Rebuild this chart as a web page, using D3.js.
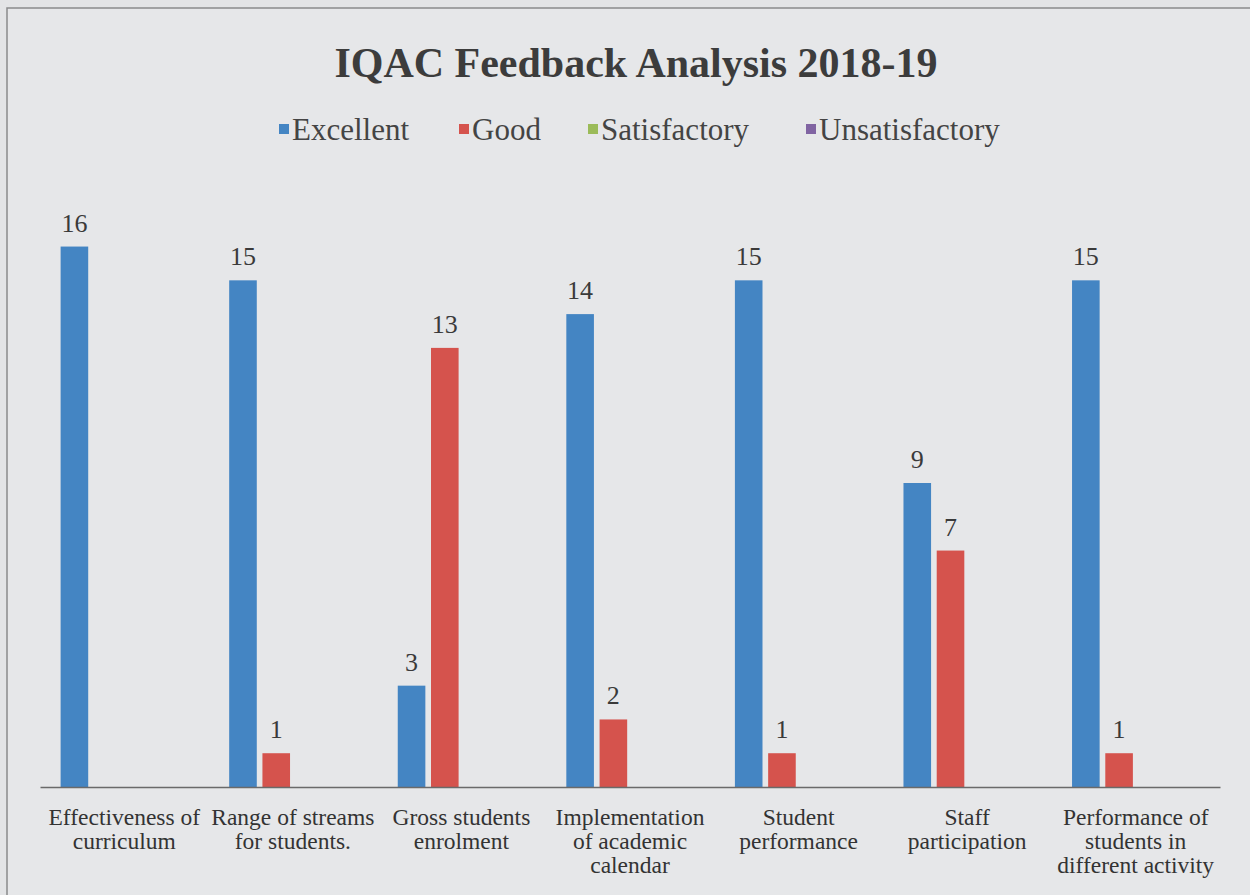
<!DOCTYPE html>
<html>
<head>
<meta charset="utf-8">
<script src="https://cdn.jsdelivr.net/npm/d3@7"></script>
<style>
  body { margin: 0; background: #e3e4e6; }
  svg text { font-family: "Liberation Serif", "Times New Roman", serif; }
</style>
</head>
<body>
<div id="chart"></div>
<script>
// chart data
const categories = [
  ["Effectiveness of", "curriculum"],
  ["Range of streams", "for students."],
  ["Gross students", "enrolment"],
  ["Implementation", "of academic", "calendar"],
  ["Student", "performance"],
  ["Staff", "participation"],
  ["Performance of", "students in", "different activity"]
];
const series = ["Excellent", "Good", "Satisfactory", "Unsatisfactory"];
const excellent = [16, 15, 3, 14, 15, 9, 15];
const good = [0, 1, 13, 2, 1, 7, 1];
const satisfactory = [0, 0, 0, 0, 0, 0, 0];
const unsatisfactory = [0, 0, 0, 0, 0, 0, 0];
const colors = ["#4485c3", "#d5534d", "#9bbb59", "#8064a2"];

const width = 1250, height = 895;
const margin = {top: 179, right: 30, bottom: 108, left: 40};
const serif = "Liberation Serif, Times New Roman, serif";

const values = [excellent, good, satisfactory, unsatisfactory];
const data = categories.map((c, i) => ({
  idx: i,
  label: c,
  vals: series.map((s, j) => ({key: s, j: j, value: values[j][i]}))
}));

const svg = d3.select("#chart")
  .append("svg")
  .attr("width", width)
  .attr("height", height);

// page frame of the printed sheet
svg.append("rect")
  .attr("x", 7).attr("y", 8)
  .attr("width", width + 10).attr("height", height + 10)
  .attr("fill", "#e6e7e9")
  .attr("stroke", "#8a8a8c")
  .attr("stroke-width", 1.5);

let x0 = d3.scaleBand()
  .domain(d3.range(categories.length))
  .range([margin.left, width - margin.right]);

let x1 = d3.scaleBand()
  .domain(series)
  .range([0, x0.bandwidth()])
  .paddingInner(0.17)
  .paddingOuter(0.62);

let yScale = d3.scaleLinear()
  .domain([0, 18])
  .range([height - margin.bottom, margin.top]);

/*
  Title + legend
*/
svg.append("text")
  .attr("x", 636).attr("y", 77)
  .attr("text-anchor", "middle")
  .attr("font-family", serif)
  .attr("font-size", "42px")
  .attr("font-weight", "bold")
  .attr("fill", "#3c3c3c")
  .text("IQAC Feedback Analysis 2018-19");

const legendX = [279, 459, 588, 806];
const legend = svg.selectAll(".legend")
  .data(series)
  .enter()
  .append("g")
    .attr("class", "legend")
    .attr("transform", (d, i) => `translate(${legendX[i]}, 130)`);

legend.append("rect")
  .attr("x", 0).attr("y", -6)
  .attr("width", 10).attr("height", 10)
  .attr("fill", (d, i) => colors[i]);

legend.append("text")
  .attr("x", 13).attr("y", 10)
  .attr("font-family", serif)
  .attr("font-size", "31px")
  .attr("fill", "#444")
  .text(d => d);

/*
  Bars
*/
const groups = svg.selectAll(".group")
  .data(data)
  .enter()
  .append("g")
    .attr("class", "group")
    .attr("transform", d => `translate(${x0(d.idx)}, 0)`);

const bars = groups.selectAll(".bar")
  .data(d => d.vals.filter(v => v.value > 0))
  .enter();

bars.append("rect")
  .attr("class", "bar")
  .attr("x", d => x1(d.key))
  .attr("y", d => yScale(d.value))
  .attr("width", x1.bandwidth())
  .attr("height", d => yScale(0) - yScale(d.value))
  .attr("fill", d => colors[d.j]);

bars.append("text")
  .attr("x", d => x1(d.key) + x1.bandwidth() / 2)
  .attr("y", d => yScale(d.value) - 15)
  .attr("text-anchor", "middle")
  .attr("font-family", serif)
  .attr("font-size", "26px")
  .attr("fill", "#3a3a3a")
  .text(d => d.value);

/*
  Axis
*/
svg.append("g")
  .attr("transform", `translate(0,${height - margin.bottom})`)
  .call(d3.axisBottom(x0).tickSize(0).tickFormat(""))
  .call(g => g.select(".domain").attr("stroke", "#6a6a6a").attr("stroke-width", 1.5));

const labels = svg.selectAll(".cat")
  .data(data)
  .enter()
  .append("text")
    .attr("class", "cat")
    .attr("text-anchor", "middle")
    .attr("font-family", serif)
    .attr("font-size", "23.5px")
    .attr("fill", "#333");

labels.selectAll("tspan")
  .data(d => d.label.map(l => ({l: l, cx: x0(d.idx) + x0.bandwidth() / 2})))
  .enter()
  .append("tspan")
    .attr("x", d => d.cx)
    .attr("y", (d, i) => height - margin.bottom + 38 + i * 24)
    .text(d => d.l);
</script>
</body>
</html>
